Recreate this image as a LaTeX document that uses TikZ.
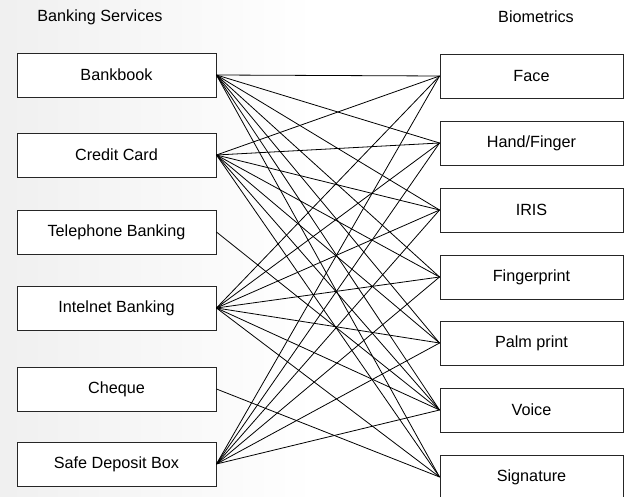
\documentclass[tikz,border=0pt]{standalone}
\usepackage{fontspec}
\setmainfont{Liberation Sans}
\begin{document}
\begin{tikzpicture}[x=1pt,y=-1pt,
  lbox/.style={draw=black!85,line width=0.9pt,fill=white,minimum width=199pt,minimum height=44pt,inner sep=0pt,font=\fontsize{16.2}{19}\selectfont},
  rbox/.style={draw=black!85,line width=0.9pt,fill=white,minimum width=183pt,minimum height=44pt,inner sep=0pt,font=\fontsize{16.2}{19}\selectfont},
  head/.style={font=\fontsize{16.2}{19}\selectfont,inner sep=0pt},
  link/.style={black,line width=0.8pt}]
\useasboundingbox (0,0) rectangle (630,497);
\shade[left color=black!6,right color=white] (0,0) rectangle (315,497);
\fill[white] (315,0) rectangle (630,497);
\node[head] (hl) at (100,17) {Banking Services};
\node[head] (hr) at (536,17) {Biometrics};
% left
\node[lbox] (bb) at (116.5,75) {Bankbook};
\node[lbox] (cc) at (116.5,155) {Credit Card};
\node[lbox] (tb) at (116.5,232) {Telephone Banking};
\node[lbox] (ib) at (116.5,308) {Intelnet Banking};
\node[lbox] (ch) at (116.5,389) {Cheque};
\node[lbox] (sd) at (116.5,464) {Safe Deposit Box};
% right
\node[rbox] (fa) at (531.5,76) {Face};
\node[rbox] (hf) at (531.5,143) {Hand/Finger};
\node[rbox] (ir) at (531.5,210) {IRIS};
\node[rbox] (fp) at (531.5,277) {Fingerprint};
\node[rbox] (pp) at (531.5,343) {Palm print};
\node[rbox] (vo) at (531.5,410) {Voice};
\node[rbox] (si) at (531.5,477) {Signature};
% links
\foreach \r in {fa,hf,ir,fp,pp,vo,si} {
  \draw[link] (bb.east) -- (\r.west);
  \draw[link] (cc.east) -- (\r.west);
  \draw[link] (ib.east) -- (\r.west);
}
\foreach \r in {fa,hf,ir,fp,pp,vo} {
  \draw[link] (sd.east) -- (\r.west);
}
\draw[link] (tb.east) -- (vo.west);
\draw[link] (ch.east) -- (si.west);
\end{tikzpicture}
\end{document}
